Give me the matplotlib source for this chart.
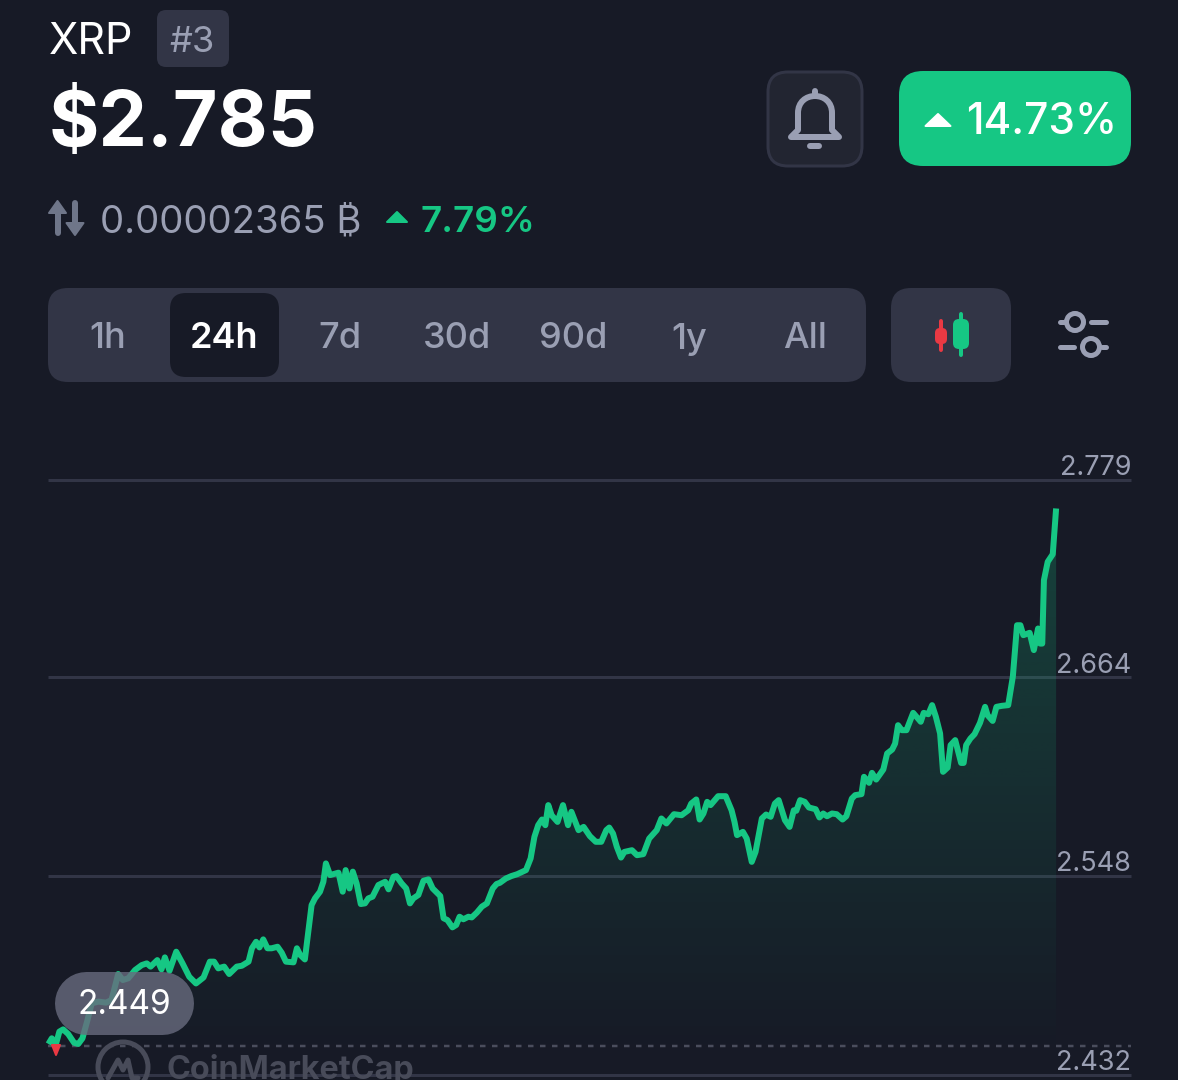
import numpy as np
import matplotlib
matplotlib.use("Agg")
import matplotlib.pyplot as plt
from matplotlib.patches import FancyBboxPatch, Polygon, Circle, PathPatch
from matplotlib.path import Path

# ---- data -------------------------------------------------------------
hours = [0.01,0.09,0.19,0.27,0.36,0.48,0.62,0.72,0.82,0.94,1.04,1.20,1.38,1.51,1.67,1.78,1.91,2.07,2.23,2.35,
 2.44,2.60,2.70,2.78,2.89,3.05,3.20,3.36,3.52,3.70,3.85,3.95,4.05,4.19,4.31,4.49,4.61,4.77,4.85,4.95,
 5.03,5.12,5.22,5.32,5.46,5.56,5.66,5.84,5.92,6.00,6.11,6.27,6.35,6.47,6.55,6.61,6.71,6.91,7.01,7.08,
 7.17,7.25,7.34,7.44,7.54,7.62,7.72,7.86,8.02,8.10,8.22,8.29,8.41,8.52,8.61,8.69,8.81,8.93,9.05,9.15,
 9.33,9.41,9.50,9.62,9.71,9.79,9.88,10.00,10.08,10.20,10.32,10.44,10.58,10.67,10.75,
 10.89,11.02,11.16,11.37,11.48,11.57,11.66,11.75,11.83,11.90,11.98,12.12,12.25,12.37,12.45,12.62,12.74,12.89,13.03,13.16,
 13.28,13.35,13.44,13.53,13.63,13.71,13.89,14.01,14.16,14.30,14.48,14.59,14.71,14.89,15.07,15.23,15.30,15.42,15.50,15.59,
 15.68,15.76,15.94,16.12,16.26,16.33,16.39,16.53,16.62,16.74,16.83,16.98,17.08,17.19,17.29,17.38,17.53,17.64,17.74,17.80,
 17.89,18.00,18.10,18.26,18.35,18.44,18.53,18.65,18.76,18.90,18.99,19.12,19.20,19.35,19.41,19.53,19.60,19.70,19.87,19.96,
 20.08,20.15,20.22,20.31,20.42,20.58,20.76,20.83,20.94,21.03,21.12,21.22,21.29,21.40,21.47,21.58,21.72,21.78,21.84,21.94,
 22.04,22.17,22.29,22.35,22.47,22.56,22.69,22.84,22.95,23.05,23.13,23.20,23.35,23.45,23.55,23.60,23.65,23.69,23.78,23.90,23.98]
prices = [2.4501,2.4534,2.4501,2.4573,2.4586,2.4559,2.4508,2.4501,2.4534,2.4641,2.4738,2.4748,2.4742,2.4757,2.4909,2.4874,2.4884,2.4932,2.4961,2.4971,
 2.4952,2.4990,2.4936,2.5006,2.4928,2.5039,2.4971,2.4893,2.4854,2.4889,2.4981,2.4981,2.4942,2.4952,2.4909,2.4952,2.4957,2.4981,2.5059,2.5097,
 2.5064,2.5111,2.5059,2.5059,2.5068,2.5033,2.4981,2.4977,2.5059,2.5020,2.4994,2.5311,2.5350,2.5389,2.5447,2.5554,2.5486,2.5500,2.5389,2.5515,
 2.5408,2.5506,2.5438,2.5317,2.5321,2.5350,2.5360,2.5428,2.5447,2.5403,2.5477,2.5480,2.5438,2.5408,2.5321,2.5350,2.5370,2.5453,2.5461,2.5408,
 2.5364,2.5234,2.5224,2.5181,2.5195,2.5243,2.5228,2.5243,2.5239,2.5267,2.5302,2.5321,2.5408,2.5434,2.5441,
 2.5466,2.5480,2.5491,2.5515,2.5583,2.5709,2.5777,2.5810,2.5777,2.5894,2.5835,2.5796,2.5894,2.5777,2.5855,2.5748,2.5767,2.5713,2.5680,2.5680,
 2.5748,2.5763,2.5728,2.5651,2.5588,2.5621,2.5631,2.5602,2.5608,2.5699,2.5748,2.5816,2.5787,2.5841,2.5835,2.5864,2.5903,2.5927,2.5810,2.5845,
 2.5913,2.5894,2.5946,2.5946,2.5864,2.5796,2.5719,2.5738,2.5699,2.5563,2.5621,2.5816,2.5839,2.5826,2.5903,2.5923,2.5806,2.5767,2.5864,2.5861,
 2.5923,2.5913,2.5880,2.5870,2.5822,2.5845,2.5829,2.5845,2.5841,2.5810,2.5829,2.5932,2.5952,2.5958,2.6059,2.6024,2.6082,2.6043,2.6102,2.6195,
 2.6218,2.6253,2.6360,2.6331,2.6331,2.6432,2.6380,2.6432,2.6424,2.6477,2.6409,2.6312,2.6088,2.6113,2.6244,2.6273,2.6140,2.6140,2.6244,2.6282,
 2.6308,2.6374,2.6467,2.6418,2.6385,2.6467,2.6473,2.6477,2.6642,2.6943,2.6943,2.6885,2.6899,2.6798,2.6924,2.6836,2.6836,2.7206,2.7313,2.7357,2.7624]
grid_values = [2.779, 2.664, 2.548, 2.432]
grid_labels = ["2.779", "2.664", "2.548", "2.432"]
open_value = 2.449
ranges = ["1h", "24h", "7d", "30d", "90d", "1y", "All"]

# ---- styles -----------------------------------------------------------
W, H = 1178, 1080
BG, PANEL, GRID = "#171A26", "#323546", "#323546"
GREEN, RED, MUTED = "#16C784", "#EA3943", "#9A9FB3"
plt.rcParams["font.family"] = ["Inter", "DejaVu Sans"]
PX = 72 / 100  # points per pixel

fig = plt.figure(figsize=(W / 100, H / 100), dpi=100, facecolor=BG)

# ---- chart axes -------------------------------------------------------
L, R, T, B = 48, 1131, 480, 1075
ax = fig.add_axes([L / W, 1 - B / H, (R - L) / W, (B - T) / H], zorder=1)
ax.set_facecolor("none")
for s in ax.spines.values():
    s.set_visible(False)
ax.set_xticks([]); ax.set_yticks([])
for g, lab in zip(grid_values, grid_labels):
    ax.axhline(g, color=GRID, lw=3 * PX, zorder=1, clip_on=False, solid_capstyle="butt")
    ax.annotate(lab, (1, g), xycoords=("axes fraction", "data"), xytext=(0, -1), textcoords="offset points",
                ha="right", va="bottom", color=MUTED, fontsize=19.5, zorder=5, annotation_clip=False)
ax.axhline(open_value, color="#4A4D5C", lw=2.5 * PX, dashes=(2.2, 2.6), zorder=1)

grad = np.zeros((256, 2, 4))
grad[..., :3] = matplotlib.colors.to_rgb(GREEN)
grad[..., 3] = np.linspace(0.24, 0.0, 256)[:, None]
im = ax.imshow(grad, extent=[0, 24, open_value - 0.005, max(prices)], origin="upper",
               aspect="auto", zorder=2)
poly = Polygon(list(zip(hours, prices)) + [(hours[-1], open_value - 0.005), (hours[0], open_value - 0.005)],
               closed=True, transform=ax.transData, fc="none", ec="none")
ax.add_patch(poly)
im.set_clip_path(poly)
ax.plot(hours, prices, color=GREEN, lw=6 * PX, solid_joinstyle="round", solid_capstyle="butt", zorder=4, clip_on=False)
ax.set_ylim(grid_values[-1], grid_values[0])
ax.set_xlim(0, (R - L) / 42.04)

# ---- interface layer, in screen pixels ---------------------------------
ui = fig.add_axes([0, 0, 1, 1], zorder=2)
ui.set_xlim(0, W); ui.set_ylim(H, 0); ui.axis("off")

def box(x0, y0, x1, y1, r, fc, ec="none", lw=0, alpha=None, z=2):
    p = FancyBboxPatch((x0 + r, y0 + r), x1 - x0 - 2 * r, y1 - y0 - 2 * r,
                       boxstyle=f"round,pad={r},rounding_size={r}", fc=fc, ec=ec, lw=lw * PX, alpha=alpha, zorder=z)
    ui.add_patch(p)

def tri(cx, cy, w, h, color, up=True):
    d = -1 if up else 1
    ui.add_patch(Polygon([(cx - w / 2, cy - d * h / 2), (cx + w / 2, cy - d * h / 2), (cx, cy + d * h / 2)],
                         closed=True, fc=color, ec=color, lw=2 * PX, joinstyle="round", zorder=4))

def seg(xs, ys, color=MUTED, lw=5, z=4):
    ui.plot(xs, ys, color=color, lw=lw * PX, solid_capstyle="round", solid_joinstyle="round", zorder=z)

# header
ui.text(49, 42, "XRP", color="white", fontsize=31, va="center", ha="left")
box(157, 10, 229, 67, 9, PANEL)
ui.text(192, 42, "#3", color=MUTED, fontsize=26, va="center", ha="center")
ui.text(49, 125, "$2.785", color="white", fontsize=55.5, fontweight="bold", va="center", ha="left")

# bell button
box(768, 72, 862, 166, 20, "#222531", ec=PANEL, lw=3)
bell = Path([(791, 137), (798, 130), (798, 113), (798, 102), (806, 96), (815, 96), (824, 96), (832, 102), (832, 113),
             (832, 130), (839, 137), (791, 137)],
            [Path.MOVETO, Path.LINETO, Path.LINETO, Path.CURVE4, Path.CURVE4, Path.CURVE4, Path.CURVE4, Path.CURVE4,
             Path.CURVE4, Path.LINETO, Path.LINETO, Path.CLOSEPOLY])
ui.add_patch(PathPatch(bell, fc="none", ec=MUTED, lw=6 * PX, joinstyle="round", zorder=4))
seg([815, 815], [91, 96], lw=6)
seg([810, 819], [146, 146], lw=6)

# change button
box(899, 71, 1131, 166, 24, GREEN)
tri(938, 120, 25, 12, "white")
ui.text(1042, 123, "14.73%", color="white", fontsize=30.5, fontweight="medium", va="center", ha="center")

# sub line
ICON = "#6F7689"
tri(57.5, 207, 17, 12, ICON)
seg([57.5, 57.5], [210, 233], color=ICON, lw=6)
tri(75, 229, 17, 12, ICON, up=False)
seg([75, 75], [203, 226], color=ICON, lw=6)
ui.text(100, 222, "0.00002365 ₿", color=MUTED, fontsize=27.6, va="center", ha="left")
tri(397, 217, 20, 10, GREEN)
ui.text(421, 222, "7.79%", color=GREEN, fontsize=26.5, fontweight="semibold", va="center", ha="left")

# range selector
box(48, 288, 866, 382, 20, PANEL)
box(170, 293, 279, 377, 16, BG, z=3)
for lab, cx in zip(ranges, [108, 224.5, 340, 457, 573, 689, 805]):
    active = lab == "24h"
    ui.text(cx, 339, lab, color="white" if active else MUTED, fontsize=26, fontweight="semibold" if active else "medium",
            va="center", ha="center", zorder=4)

# candle button
box(891, 288, 1011, 382, 20, PANEL)
seg([941, 941], [321, 350], color=RED, lw=4)
box(935, 328, 947, 344, 5, RED, z=4)
seg([961, 961], [314, 355], color=GREEN, lw=4)
box(953, 319, 969, 349, 6, GREEN, z=4)

# filter icon
seg([1060, 1066], [322, 322]); seg([1091, 1106], [322, 322])
seg([1060, 1074], [347, 347]); seg([1102, 1106], [347, 347])
ui.add_patch(Circle((1075, 322), 8.5, fc="none", ec=MUTED, lw=5 * PX, zorder=4))
ui.add_patch(Circle((1091, 347), 8.5, fc="none", ec=MUTED, lw=5 * PX, zorder=4))

# start marker, watermark and price pill
tri(56, 1050, 8, 10, RED, up=False)
WM = "#484B59"
ui.add_patch(Circle((123, 1067), 25, fc="none", ec=WM, lw=5 * PX, zorder=1.5))
seg([108, 118, 123, 128, 132, 138], [1078, 1060, 1070, 1060, 1078, 1078], color=WM, lw=5, z=1.5)
ui.text(167, 1079, "CoinMarketCap", color=WM, fontsize=23.3, fontweight="bold", va="baseline",
        ha="left", zorder=1.5)
ui.plot([85.5, 161.5], [1002.5, 1002.5], color="#686B7E", lw=63 * PX, solid_capstyle="round", alpha=0.8, zorder=6)
ui.text(124, 1005, "2.449", color="white", fontsize=24, va="center", ha="center", zorder=7)

fig.savefig("out.png", dpi=100, facecolor=BG)
